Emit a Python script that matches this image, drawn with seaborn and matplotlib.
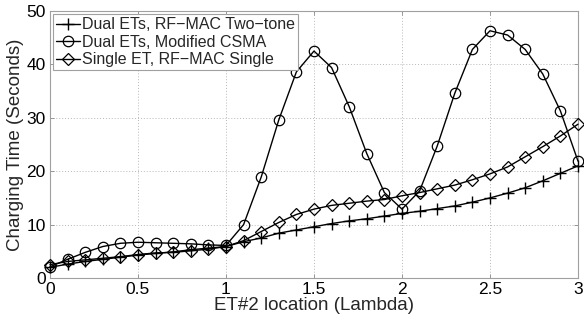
import matplotlib
matplotlib.use("Agg")
import matplotlib.pyplot as plt
import seaborn as sns

# ET#2 location (in wavelengths)
location = [0.0, 0.1, 0.2, 0.3, 0.4, 0.5, 0.6, 0.7, 0.8, 0.9, 1.0,
            1.1, 1.2, 1.3, 1.4, 1.5, 1.6, 1.7, 1.8, 1.9, 2.0,
            2.1, 2.2, 2.3, 2.4, 2.5, 2.6, 2.7, 2.8, 2.9, 3.0]

# Charging time (seconds)
dual_two_tone = [2.0, 2.6, 3.1, 3.5, 3.9, 4.3, 4.6, 4.9, 5.3, 5.6, 5.9,
                 6.8, 7.5, 8.4, 9.0, 9.6, 10.2, 10.7, 11.1, 11.6, 12.1,
                 12.5, 13.0, 13.5, 14.2, 15.0, 15.9, 16.9, 18.2, 19.6, 21.0]
dual_csma = [2.1, 3.5, 4.8, 5.9, 6.5, 6.7, 6.6, 6.5, 6.4, 6.2, 6.1,
             10.0, 18.9, 29.6, 38.6, 42.5, 39.4, 32.1, 23.3, 16.0, 12.9,
             16.3, 24.7, 34.6, 42.8, 46.3, 45.5, 42.8, 38.2, 31.3, 21.9]
single_et = [2.5, 3.1, 3.4, 3.7, 4.0, 4.4, 4.7, 4.8, 5.1, 5.4, 5.9,
             7.0, 8.7, 10.4, 11.9, 12.9, 13.6, 14.0, 14.4, 14.7, 15.4,
             16.0, 16.7, 17.4, 18.4, 19.5, 20.8, 22.7, 24.6, 26.6, 28.8]

series_labels = ["Dual ETs, RF\u2212MAC Two\u2212tone",
                 "Dual ETs, Modified CSMA",
                 "Single ET, RF\u2212MAC Single"]
x_ticks = [0, 0.5, 1, 1.5, 2, 2.5, 3]
x_tick_labels = ["0", "0.5", "1", "1.5", "2", "2.5", "3"]
y_ticks = [0, 10, 20, 30, 40, 50]

sns.set_theme(style="white")
plt.rcParams["font.family"] = ["Liberation Sans", "DejaVu Sans"]

fig = plt.figure(figsize=(5.84, 3.22), dpi=100)
ax = fig.add_axes([0.0856, 0.1366, 0.9041, 0.8292])

styles = [dict(marker="+", markersize=8, markeredgewidth=1.0),
          dict(marker="o", markersize=7.5, markeredgewidth=0.9),
          dict(marker="D", markersize=6, markeredgewidth=0.9)]

for yvals, lab, st in zip([dual_two_tone, dual_csma, single_et], series_labels, styles):
    sns.lineplot(x=location, y=yvals, ax=ax, color="black", linewidth=1.0,
                 markerfacecolor="none", markeredgecolor="black",
                 label=lab, clip_on=False, zorder=3, **st)

ax.set_xlim(0, 3)
ax.set_ylim(0, 50)
ax.set_xticks(x_ticks)
ax.set_xticklabels(x_tick_labels)
ax.set_yticks(y_ticks)
ax.grid(True, color="#b8b8b8", linestyle=(0, (1, 2)), linewidth=0.7)
ax.tick_params(direction="in", length=3, width=0.6, colors="#888888",
               labelcolor="black", labelsize=12.5, top=True, right=True,
               bottom=True, left=True, pad=3)
for sp in ax.spines.values():
    sp.set_color("#a0a0a0")
    sp.set_linewidth(0.8)

ax.set_xlabel("ET#2 location (Lambda)", fontsize=13.5, labelpad=0)
ax.set_ylabel("Charging Time (Seconds)", fontsize=13.5, labelpad=2)

leg = ax.legend(loc="upper left", fontsize=11.5, frameon=True, fancybox=False,
                handlelength=1.5, handletextpad=0.1, borderpad=0.2,
                labelspacing=0.15, borderaxespad=0.2)
leg.get_frame().set_edgecolor("#a0a0a0")
leg.get_frame().set_linewidth(0.8)
leg.get_frame().set_alpha(1.0)

fig.savefig("out.png", dpi=100)
